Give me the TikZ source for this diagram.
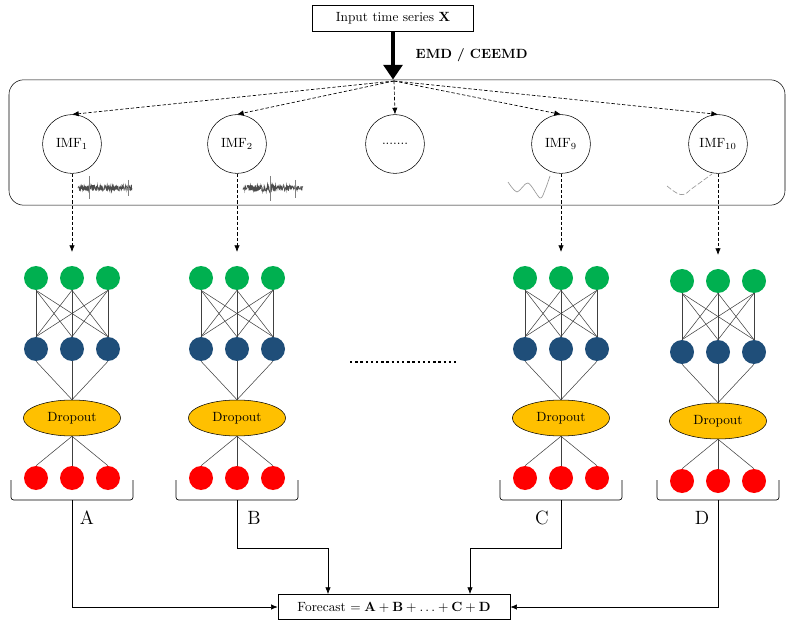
\documentclass[tikz,border=0pt]{standalone}
\usetikzlibrary{arrows.meta,shapes.geometric}

\definecolor{ingreen}{HTML}{00B050}
\definecolor{hidblue}{HTML}{1F4E79}
\definecolor{dropgold}{HTML}{FFC000}
\definecolor{outred}{HTML}{FF0000}

\begin{document}
\begin{tikzpicture}[x=0.75pt, y=-0.75pt, draw=black,
  imf/.style={draw, circle, minimum size=44pt, inner sep=0pt},
  unit/.style={circle, minimum size=18pt, inner sep=0pt},
  drop/.style={draw, ellipse, fill=dropgold, minimum width=73pt, minimum height=27pt, inner sep=0pt},
  link/.style={draw=black!75, line width=0.4pt},
  feed/.style={dashed, dash pattern=on 2.5pt off 1.5pt, line width=0.5pt, -{Latex[length=5pt,width=4pt]}},
  sum/.style={line width=0.5pt, -{Latex[length=5pt,width=4pt]}},
  wave/.style={black!70, line width=0.45pt}]

\useasboundingbox (0,0) rectangle (789,627);

\node[draw, minimum width=121pt, minimum height=19.5pt] (input) at (393,18) {Input time series $\mathbf{X}$};
\node[draw, rounded corners=11pt, minimum width=582pt, minimum height=94pt] (imfbox) at (397,142.5) {};
\coordinate (apex) at (394,81);
\draw[line width=3.2pt, -{Triangle[length=11pt,width=14pt]}] (input.south) -- (imfbox.north -| input.south);
\node[font=\bfseries, anchor=west] (emd) at (411,55) {EMD / CEEMD};

\node[imf] (imf1) at (72,144) {IMF$_1$};
\node[imf] (imf2) at (237,144) {IMF$_2$};
\node[imf] (imfdots) at (395,144) {.......};
\node[imf] (imf9) at (561,144) {IMF$_9$};
\node[imf] (imf10) at (718,144) {IMF$_{10}$};
\foreach \m in {imf1,imf2,imfdots,imf9,imf10}
  \draw[feed] (apex) -- (\m.north);

% small IMF signals
\pgfmathsetseed{11}
\draw[wave] plot[domain=78:132, samples=220] (\x,{188+3*rand});
\draw[wave, black!50] (89,176) -- (89,199) (128,180) -- (128,196);
\draw[wave] plot[domain=243:303, samples=240] (\x,{188+(4.5-abs(\x-268)/12)*rand});
\draw[wave, black!50] (270,176) -- (270,201) (295,180) -- (295,198);
\draw[black!40, line width=0.5pt] plot[smooth] coordinates {(508,182) (517,192) (528,183) (540,198) (545,190) (550,176)};
\draw[black!40, line width=0.5pt, dash pattern=on 4pt off 1.5pt] (667,186) .. controls (678,195) and (683,198) .. (690,190) -- (712,174);

% the four networks
\foreach \n/\X/\dy/\lab/\lx in {a/72/0/A/15, b/237/0/B/17, c/561/0/C/-19, d/718/3/D/-16} {
  \foreach \i/\s in {1/-36, 2/0, 3/36} {
    \node[unit, fill=ingreen] (\n-g\i) at ({\X+\s},{278+\dy}) {};
    \node[unit, fill=hidblue] (\n-h\i) at ({\X+\s},{349+\dy}) {};
    \node[unit, fill=outred] (\n-o\i) at ({\X+\s},{478+\dy}) {};
  }
  \node[drop] (\n-drop) at (\X,{418+\dy}) {Dropout};
  \foreach \i in {1,2,3} {
    \foreach \j in {1,2,3}
      \draw[link] (\n-g\i.south) -- (\n-h\j.north);
    \draw[link] (\n-h\i.south) -- (\n-drop.north);
    \draw[link] (\n-drop.south) -- (\n-o\i.north);
  }
  \draw[line width=0.5pt, rounded corners=2pt] ({\X-61},{480}) -- ({\X-61},500) -- ({\X+61},500) -- ({\X+61},480);
  \coordinate (\n-bot) at (\X,500);
  \coordinate (\n-top) at (\X,{252+\dy});
  \node[font=\Large] (\n-lab) at ({\X+\lx},518) {\lab};
}

\draw[feed] (imf1.south) -- (a-top);
\draw[feed] (imf2.south) -- (b-top);
\draw[feed] (imf9.south) -- (c-top);
\draw[feed] (imf10.south) -- (d-top);

\coordinate (gapl) at (350,362);
\coordinate (gapr) at (459,362);
\draw[line width=1.8pt, dash pattern=on 1.8pt off 2.1pt] (gapl) -- (gapr);

\node[draw, minimum width=174pt, minimum height=19pt] (fc) at (394,607)
  {Forecast $= \mathbf{A} + \mathbf{B} + \ldots + \mathbf{C} + \mathbf{D}$};
\coordinate (bknee) at (328,548);
\coordinate (cknee) at (470,548);
\draw[sum] (a-bot) |- (fc.west);
\draw[sum] (b-bot) |- (bknee) -- (bknee |- fc.north);
\draw[sum] (c-bot) |- (cknee) -- (cknee |- fc.north);
\draw[sum] (d-bot) |- (fc.east);
\end{tikzpicture}
\end{document}
